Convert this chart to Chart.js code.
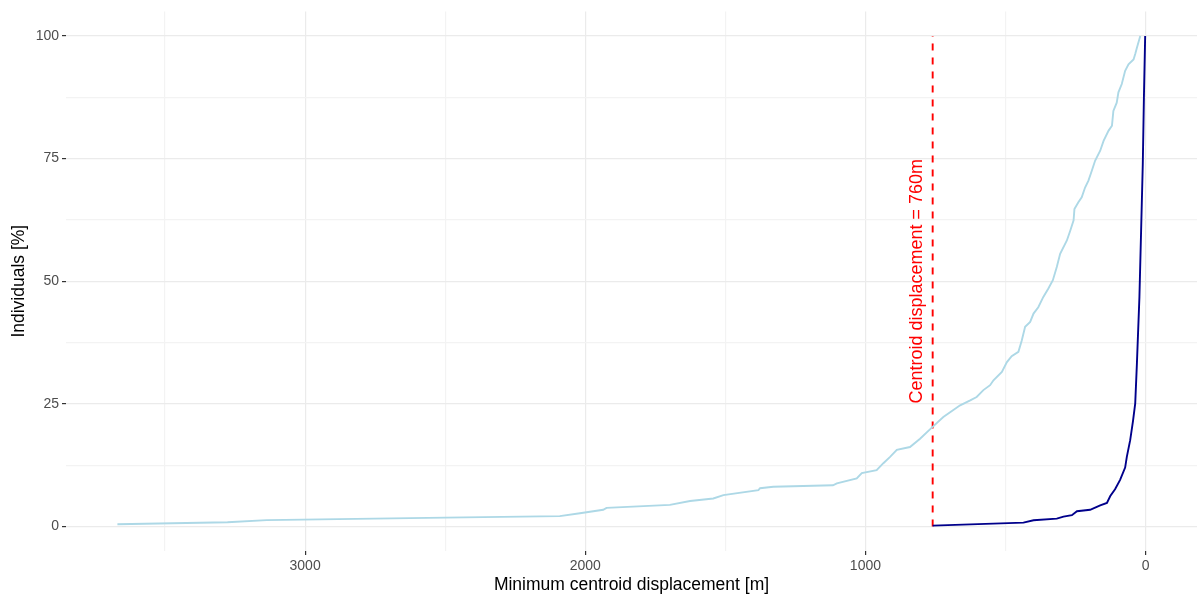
<!DOCTYPE html>
<html lang="en">
<head>
    <meta charset="UTF-8">
    <title>Minimum centroid displacement</title>
    <script src="https://cdn.jsdelivr.net/npm/chart.js"></script>
    <style>
        body {
            margin: 0;
            background: #ffffff;
        }
        .wrap {
            width: 1198px;
            height: 596px;
        }
    </style>
</head>
<body>
    <div class="wrap">
        <canvas id="chart"></canvas>
    </div>

    <script>
        // Light blue curve (all individuals), displacement in m vs. cumulative %
        const lightX = [19, 31, 37, 43, 61, 73, 85, 97, 103, 115, 120, 132, 150, 162, 180, 192, 204, 216, 228, 240,
            254, 257, 269, 281, 305, 317, 331, 347, 365, 383, 400, 412, 430, 442, 454, 478, 495, 513, 543, 555,
            579, 603, 626, 662, 722, 766, 805, 841, 888, 912, 936, 960, 1013, 1031, 1102, 1116, 1329, 1376, 1382,
            1507, 1543, 1626, 1698, 1924, 1936, 2019, 2091, 2499, 3137, 3277, 3670];
        const lightY = [100, 97.6, 96.3, 95.2, 94.2, 92.9, 90.2, 88.5, 86.4, 84.7, 81.7, 80.7, 78.6, 76.6, 74.6, 72.5, 70.5, 69.1, 67.1, 66.1,
            64.7, 62.4, 60.3, 58.3, 55.6, 52.9, 50.2, 48.5, 46.8, 44.7, 43.4, 41.7, 40.7, 37.9, 35.6, 34.7, 33.5, 31.5, 29.8, 28.8,
            27.8, 26.4, 25.7, 24.7, 22.3, 20.0, 17.9, 16.2, 15.6, 14.2, 12.9, 11.5, 10.9, 9.8, 8.8, 8.4, 8.1, 7.8, 7.4,
            6.4, 5.7, 5.2, 4.4, 3.8, 3.4, 2.7, 2.1, 1.8, 1.3, 0.85, 0.45];

        // Dark blue curve
        const darkX = [1.5, 6, 10, 16, 22, 31, 37, 45, 55, 67, 73, 91, 109, 126, 138, 162, 174, 198, 245, 263, 293, 317, 400, 436, 760];
        const darkY = [100, 87.4, 73.9, 60.3, 46.8, 33.2, 25.1, 21.5, 17.6, 14.2, 12.0, 9.5, 7.6, 6.2, 4.8, 4.3, 4.0, 3.4, 3.1, 2.3, 2.0, 1.6, 1.26, 0.78, 0.17];

        // Threshold line
        const threshold = 760;
        const thresholdLabel = 'Centroid displacement = 760m';

        const xTicks = [0, 500, 1000, 1500, 2000, 2500, 3000, 3500];
        const yTicks = [0, 12.5, 25, 37.5, 50, 62.5, 75, 87.5, 100];

        const FONT = '"Liberation Sans", Arial, Helvetica, sans-serif';

        const toPoints = (xs, ys) => xs.map((x, i) => ({ x: x, y: ys[i] }));

        const isMajorX = v => v % 1000 === 0;
        const isMajorY = v => v % 25 === 0;

        // Rotated text next to the dashed line
        const labelPlugin = {
            id: 'thresholdLabel',
            afterDatasetsDraw(chart) {
                const { ctx, scales } = chart;
                const px = scales.x.getPixelForValue(threshold) - 16;
                const py = scales.y.getPixelForValue(50);
                ctx.save();
                ctx.translate(px, py);
                ctx.rotate(-Math.PI / 2);
                ctx.font = '18px ' + FONT;
                ctx.fillStyle = '#ff0000';
                ctx.textAlign = 'center';
                ctx.textBaseline = 'middle';
                ctx.fillText(thresholdLabel, 0, 0);
                ctx.restore();
            }
        };

        const ctx = document.getElementById('chart').getContext('2d');
        new Chart(ctx, {
            type: 'scatter',
            data: {
                datasets: [
                    {
                        label: 'All',
                        data: toPoints(lightX, lightY),
                        showLine: true,
                        borderColor: '#add8e6',
                        borderWidth: 1.9,
                        pointRadius: 0,
                        tension: 0
                    },
                    {
                        label: 'Min',
                        data: toPoints(darkX, darkY),
                        showLine: true,
                        borderColor: '#00008b',
                        borderWidth: 1.9,
                        pointRadius: 0,
                        tension: 0
                    },
                    {
                        label: 'Threshold',
                        data: [{ x: threshold, y: 0 }, { x: threshold, y: 100 }],
                        showLine: true,
                        borderColor: '#ff0000',
                        borderWidth: 1.9,
                        borderDash: [7, 7],
                        pointRadius: 0
                    }
                ]
            },
            options: {
                responsive: true,
                maintainAspectRatio: false,
                animation: false,
                layout: { padding: { top: 10, right: 1, left: 0, bottom: 0 } },
                plugins: {
                    legend: { display: false },
                    tooltip: { enabled: false }
                },
                scales: {
                    x: {
                        type: 'linear',
                        reverse: true,
                        min: -183.5,
                        max: 3853.5,
                        afterBuildTicks: scale => { scale.ticks = xTicks.map(v => ({ value: v })); },
                        afterFit: scale => { scale.height = 45; },
                        border: { display: false },
                        grid: {
                            color: c => isMajorX(c.tick.value) ? '#ebebeb' : '#f3f3f3',
                            lineWidth: 1.2,
                            tickLength: 4,
                            tickColor: c => isMajorX(c.tick.value) ? '#333333' : 'rgba(0,0,0,0)'
                        },
                        ticks: {
                            autoSkip: false,
                            maxRotation: 0,
                            padding: 3,
                            color: '#4d4d4d',
                            font: { family: FONT, size: 14 },
                            callback: v => isMajorX(v) ? String(v) : ''
                        },
                        title: {
                            display: true,
                            text: 'Minimum centroid displacement [m]',
                            color: '#000000',
                            padding: { top: 0, bottom: 0 },
                            font: { family: FONT, size: 17.5 }
                        }
                    },
                    y: {
                        type: 'linear',
                        min: -5,
                        max: 105,
                        afterBuildTicks: scale => { scale.ticks = yTicks.map(v => ({ value: v })); },
                        afterFit: scale => { scale.width = 66; },
                        border: { display: false },
                        grid: {
                            color: c => isMajorY(c.tick.value) ? '#ebebeb' : '#f3f3f3',
                            lineWidth: 1.2,
                            tickLength: 4,
                            tickColor: c => isMajorY(c.tick.value) ? '#333333' : 'rgba(0,0,0,0)'
                        },
                        ticks: {
                            autoSkip: false,
                            padding: 3,
                            color: '#4d4d4d',
                            font: { family: FONT, size: 14 },
                            callback: v => isMajorY(v) ? String(v) : ''
                        },
                        title: {
                            display: true,
                            text: 'Individuals [%]',
                            color: '#000000',
                            padding: { top: 9, bottom: 0 },
                            font: { family: FONT, size: 17.5 }
                        }
                    }
                }
            },
            plugins: [labelPlugin]
        });
    </script>
</body>
</html>
